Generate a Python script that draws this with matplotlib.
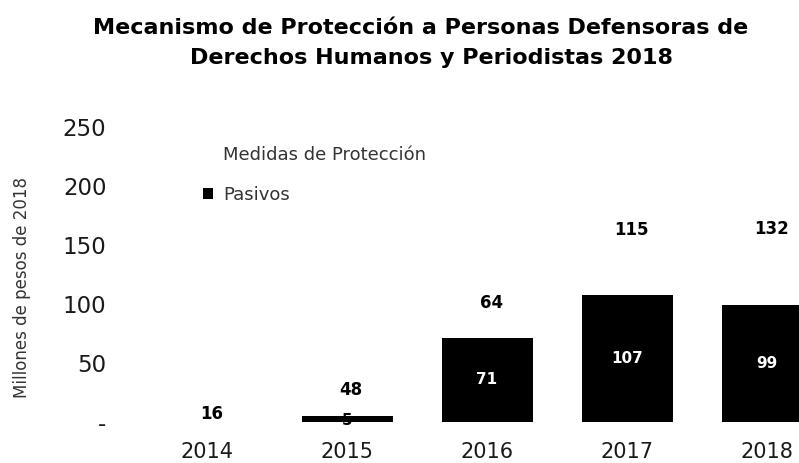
import matplotlib
matplotlib.use("Agg")
import matplotlib.pyplot as plt
from matplotlib.patches import Patch
from matplotlib.ticker import FuncFormatter

plt.rcParams['font.family'] = ['DejaVu Sans']

years = ["2014", "2015", "2016", "2017", "2018"]
pasivos = [0, 5, 71, 107, 99]
medidas = [16, 48, 64, 115, 132]
yticks = [0, 50, 100, 150, 200, 250]

W, H = 799, 463
fig = plt.figure(figsize=(W / 100, H / 100), dpi=100)
ax = fig.add_axes([137 / W, 41.5 / H, 700 / W, 294.5 / H])

x = list(range(len(years)))
bw = 0.65
ax.bar(x, pasivos, width=bw, color='black', zorder=2)
ax.bar(x, medidas, width=bw, bottom=pasivos, color='white', zorder=1)

for i in x:
    p = pasivos[i]
    m = medidas[i]
    if p > 0:
        col = 'white' if p > 20 else 'black'
        ax.text(i, p / 2 if p > 20 else 0.5, str(p), ha='center', va='center',
                color=col, fontsize=11, fontweight='bold', zorder=3)
    ax.text(i + 0.03, p + m / 2 - 2, str(m), ha='center', va='center',
            color='black', fontsize=12, fontweight='bold', zorder=3)

ax.set_xlim(-0.5, 4.5)
ax.set_ylim(0, 250)
ax.set_xticks(x)
ax.set_xticklabels(years)
ax.set_yticks(yticks)
ax.yaxis.set_major_formatter(FuncFormatter(lambda v, pos: '-' if v == 0 else f'{int(v)}'))
for s in ax.spines.values():
    s.set_visible(False)
ax.tick_params(axis='both', length=0, colors='#1a1a1a')
ax.tick_params(axis='y', pad=22, labelsize=16.5)
ax.tick_params(axis='x', pad=15, labelsize=15)

fig.text(22 / W, 1 - 288 / H, 'Millones de pesos de 2018', rotation=90,
         ha='center', va='center', fontsize=12, color='#333333')

fig.text(421 / W, 1 - 28 / H, 'Mecanismo de Protección a Personas Defensoras de',
         ha='center', va='center', fontsize=16, fontweight='bold')
fig.text(432 / W, 1 - 58 / H, 'Derechos Humanos y Periodistas 2018',
         ha='center', va='center', fontsize=16, fontweight='bold')

handles = [Patch(facecolor='white', edgecolor='none', label='Medidas de Protección'),
           Patch(facecolor='black', edgecolor='none', label='Pasivos')]
fig.legend(handles=handles, loc='upper left', bbox_to_anchor=(203 / W, 1 - 146 / H),
           frameon=False, fontsize=13, handlelength=0.55, handleheight=0.6,
           handletextpad=0.55, labelspacing=1.2, borderpad=0, borderaxespad=0,
           labelcolor='#333333')

fig.savefig('out.png', dpi=100)
